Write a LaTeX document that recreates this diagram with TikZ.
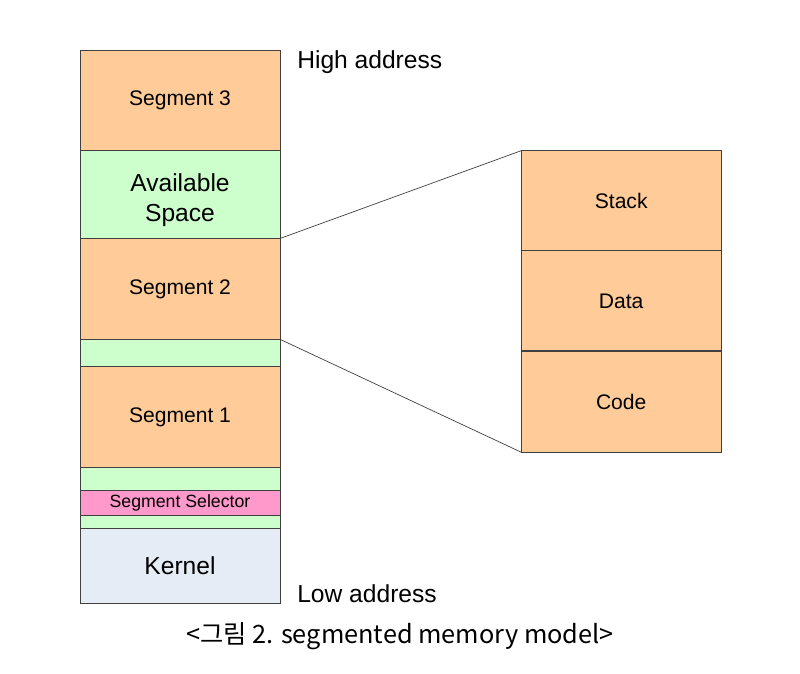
\documentclass[tikz,border=0pt]{standalone}
\usepackage{fontspec}
\setmainfont{Liberation Sans}
\newfontfamily\krfont{Noto Sans CJK KR}
\definecolor{segorange}{HTML}{FFCC99}
\definecolor{freegreen}{HTML}{CCFFCC}
\definecolor{selpink}{HTML}{FF99CC}
\definecolor{kernblue}{HTML}{E6ECF6}
\definecolor{edgegray}{HTML}{404040}
\begin{document}
\begin{tikzpicture}[blk/.style={draw=edgegray, line width=0.6pt, minimum width=5cm, inner sep=0pt, outer sep=0pt, align=center},
    seg/.style={blk, fill=segorange, font=\fontsize{15}{18}\selectfont},
    free/.style={blk, fill=freegreen, font=\fontsize{17.5}{20.8}\selectfont},
    lbl/.style={font=\fontsize{17.5}{21}\selectfont, anchor=base west, inner sep=0pt}]
    \useasboundingbox (0,0) rectangle (20,-16.825);
    % memory column
    \node[seg,minimum height=2.5cm] (seg3) at (4.5,-2.5) {Segment 3};
    \node[free,minimum height=2.2125cm,label={[font=\fontsize{17.5}{20.8}\selectfont,align=center,yshift=-0.15cm]center:Available\\Space}] (avail) at (4.5,-4.856) {};
    \node[seg,minimum height=2.52cm] (seg2) at (4.5,-7.2225) {Segment 2};
    \node[free,minimum height=0.685cm] (gapa) at (4.5,-8.825) {};
    \node[seg,minimum height=2.515cm] (seg1) at (4.5,-10.425) {Segment 1};
    \node[free,minimum height=0.575cm] (gapb) at (4.5,-11.97) {};
    \node[blk,fill=selpink,minimum height=0.6175cm,font=\fontsize{12.6}{15}\selectfont] (selector) at (4.5,-12.566) {Segment Selector};
    \node[free,minimum height=0.3325cm] (gapc) at (4.5,-13.041) {};
    \node[blk,fill=kernblue,minimum height=1.875cm,font=\fontsize{17.5}{21}\selectfont] (kernel) at (4.5,-14.145) {Kernel};
    \node[lbl] (high) at (7.425,-1.72) {High address};
    \node[lbl] (low) at (7.425,-15.05) {Low address};
    % zoomed segment
    \node[seg,minimum height=2.5cm] (stack) at (15.53,-5.0175) {Stack};
    \node[seg,minimum height=2.5cm] (data) at (15.53,-7.5225) {Data};
    \node[seg,minimum height=2.53cm] (code) at (15.53,-10.04) {Code};
    \draw[edgegray,line width=0.5pt] (avail.south east) -- (stack.north west);
    \draw[edgegray,line width=0.5pt] (seg2.south east) -- (code.south west);
    \node[anchor=base,inner sep=0pt,font=\krfont\fontsize{18}{21}\selectfont] (caption) at (10,-16.08) {<그림 2. segmented memory model>};
\end{tikzpicture}
\end{document}
